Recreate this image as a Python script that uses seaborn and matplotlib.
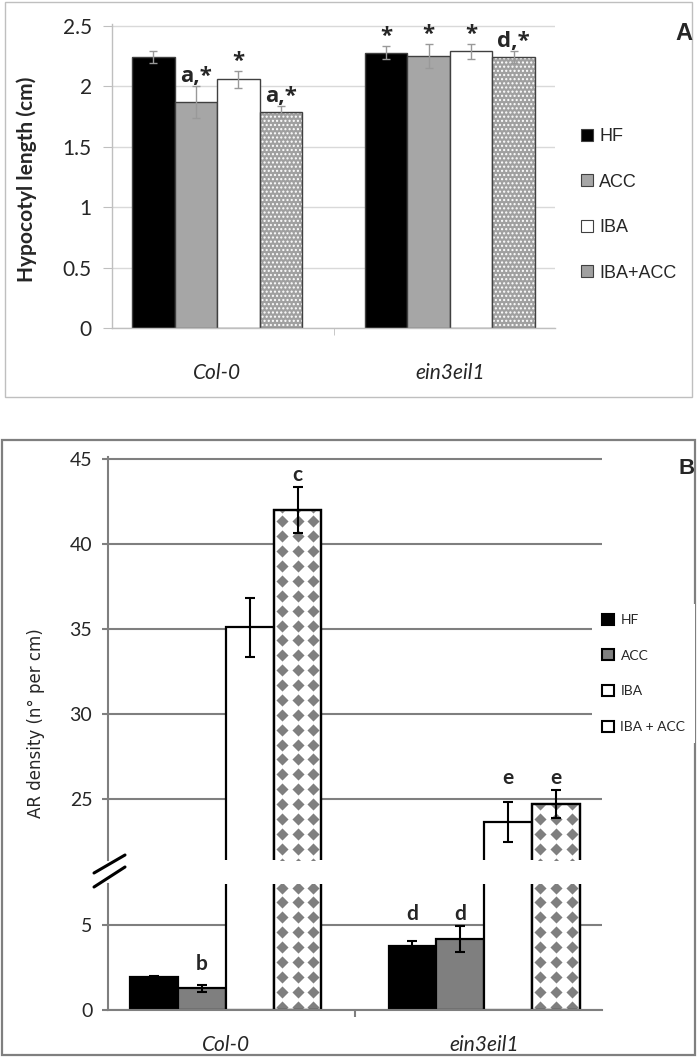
import numpy as np
import pandas as pd
import matplotlib.pyplot as plt
import seaborn as sns
from matplotlib.patches import Rectangle, Patch
from matplotlib.lines import Line2D

# Dados
genotypes = ['Col-0', 'ein3eil1']
treatments = ['HF', 'ACC', 'IBA', 'IBA+ACC']
legend_b = ['HF', 'ACC', 'IBA', 'IBA + ACC']

# painel A - hypocotyl length (cm)
hyp_col0 = [2.24, 1.87, 2.06, 1.79]
hyp_col0_err = [0.05, 0.13, 0.07, 0.05]
hyp_ein = [2.28, 2.25, 2.29, 2.24]
hyp_ein_err = [0.055, 0.10, 0.065, 0.05]
hyp_marks_col0 = ['', 'a,*', '*', 'a,*']
hyp_marks_ein = ['*', '*', '*', 'd,*']

# painel B - AR density (n per cm)
ar_col0 = [1.92, 1.27, 35.1, 42.0]
ar_col0_err = [0.1, 0.2, 1.75, 1.38]
ar_ein = [3.76, 4.18, 23.65, 24.7]
ar_ein_err = [0.3, 0.76, 1.2, 0.82]
ar_marks_col0 = ['', 'b', '', 'c']
ar_marks_ein = ['d', 'd', 'e', 'e']


def make_df(v1, e1, m1, v2, e2, m2):
    rows = []
    for g, vals, errs, marks in [(genotypes[0], v1, e1, m1), (genotypes[1], v2, e2, m2)]:
        for t, v, e, m in zip(treatments, vals, errs, marks):
            rows.append(dict(genotype=g, treatment=t, value=v, err=e, mark=m))
    return pd.DataFrame(rows)


df_a = make_df(hyp_col0, hyp_col0_err, hyp_marks_col0, hyp_ein, hyp_ein_err, hyp_marks_ein)
df_b = make_df(ar_col0, ar_col0_err, ar_marks_col0, ar_ein, ar_ein_err, ar_marks_ein)

sns.set_style('white')
plt.rcParams['font.family'] = ['Lato', 'DejaVu Sans']

W, H = 700, 1059
fig = plt.figure(figsize=(W / 100, H / 100), dpi=100)


def fx(px):
    return px / W


def fy(py):
    return 1 - py / H


def bars_of(ax):
    # (treatment index, genotype index, bar)
    out = []
    for ti, cont in enumerate(ax.containers):
        for bar in cont:
            xc = bar.get_x() + bar.get_width() / 2
            out.append((ti, int(round(xc)), bar))
    return out


# ---------------- Painel A ----------------
cores_a = {'HF': '#000000', 'ACC': '#A6A6A6', 'IBA': '#FFFFFF', 'IBA+ACC': '#A0A0A0'}
axA = fig.add_axes([fx(112), fy(328), fx(555) - fx(112), fy(23.6) - fy(328)])
sns.barplot(data=df_a, x='genotype', y='value', hue='treatment', order=genotypes,
            hue_order=treatments, palette=cores_a, width=0.73, gap=0, errorbar=None,
            saturation=1, edgecolor='#404040', linewidth=1, legend=False, ax=axA)
axA.set_ylim(0, 2.52)
axA.set_yticks([0, 0.5, 1, 1.5, 2, 2.5])
axA.set_yticklabels(['0', '0.5', '1', '1.5', '2', '2.5'])
axA.grid(axis='y', color='#D9D9D9', lw=1)
axA.set_axisbelow(True)
for s in ['top', 'right']:
    axA.spines[s].set_visible(False)
for s in ['left', 'bottom']:
    axA.spines[s].set_color('#BFBFBF')
    axA.spines[s].set_linewidth(1)
axA.tick_params(axis='y', left=True, length=6.5, color='#BFBFBF', pad=8, labelsize=15)
axA.tick_params(axis='x', which='major', length=0, pad=25, labelsize=15)
axA.set_xticks([-0.5, 0.5, 1.5], minor=True)
axA.tick_params(axis='x', which='minor', bottom=True, length=5, color='#BFBFBF')
for lbl in axA.get_xticklabels():
    lbl.set_style('italic')
axA.set_xlabel('')
axA.set_ylabel('Hypocotyl length (cm)', fontsize=15, fontweight='bold')
axA.yaxis.set_label_coords(-0.17, 0.49)

for ti, gi, bar in bars_of(axA):
    row = df_a[(df_a.genotype == genotypes[gi]) & (df_a.treatment == treatments[ti])].iloc[0]
    xc = bar.get_x() + bar.get_width() / 2
    h = bar.get_height()
    if treatments[ti] == 'IBA+ACC':
        bar.set_edgecolor('white')
        bar.set_linewidth(0)
        bar.set_hatch('....')
        axA.add_patch(Rectangle((bar.get_x(), 0), bar.get_width(), h, fill=False,
                                edgecolor='#404040', lw=1, zorder=bar.get_zorder() + 0.1))
    axA.errorbar(xc, h, yerr=row.err, fmt='none', ecolor='#999999', elinewidth=1,
                 capsize=3.2, capthick=1, zorder=5)
    if row.mark:
        axA.annotate(row.mark, (xc, h + row.err), xytext=(0, 4), textcoords='offset pixels',
                     ha='center', va='baseline', fontsize=16, fontweight='bold',
                     family='Open Sans')

handles_a = [Patch(facecolor=cores_a[t], edgecolor='#404040', lw=0.8) for t in treatments]
fig.legend(handles_a, treatments, loc='upper left', bbox_to_anchor=(fx(581), fy(128)),
           frameon=False, prop={'family': 'Liberation Sans', 'size': 13},
           handlelength=0.65, handleheight=0.65, handletextpad=0.35, labelspacing=1.58,
           borderpad=0, borderaxespad=0)
fig.text(fx(684), fy(34), 'A', ha='center', va='center', fontsize=17, fontweight='bold',
         family='Liberation Sans')
fig.add_artist(Rectangle((fx(4.5), fy(397)), fx(692) - fx(4.5), fy(2) - fy(397),
                         transform=fig.transFigure, fill=False, edgecolor='#BFBFBF', lw=1))

# ---------------- Painel B ----------------
cores_b = {'HF': '#000000', 'ACC': '#7F7F7F', 'IBA': '#FFFFFF', 'IBA+ACC': '#FFFFFF'}
grid_c = '#7F7F7F'
axBt = fig.add_axes([fx(108), fy(860.2), fx(602) - fx(108), fy(457.3) - fy(860.2)])
axBb = fig.add_axes([fx(108), fy(1010), fx(602) - fx(108), fy(884.2) - fy(1010)])

for ax in [axBt, axBb]:
    sns.barplot(data=df_b, x='genotype', y='value', hue='treatment', order=genotypes,
                hue_order=treatments, palette=cores_b, width=0.74, gap=0, errorbar=None,
                saturation=1, edgecolor='black', linewidth=1.6, legend=False, ax=ax)
    ax.grid(axis='y', color=grid_c, lw=1.5)
    ax.set_axisbelow(True)
    ax.set_xlabel('')
    ax.set_ylabel('')
    for s in ['top', 'right']:
        ax.spines[s].set_visible(False)
    ax.spines['left'].set_color(grid_c)
    ax.spines['left'].set_linewidth(1.5)
    ax.tick_params(axis='y', left=True, length=4.3, width=1.5, color=grid_c, pad=7, labelsize=14)

axBt.set_ylim(21.4, 45.1)
axBt.set_yticks([25, 30, 35, 40, 45])
axBt.spines['bottom'].set_visible(False)
axBt.set_xticks([])

axBb.set_ylim(0, 7.4)
axBb.set_yticks([0, 5])
axBb.spines['bottom'].set_color(grid_c)
axBb.spines['bottom'].set_linewidth(1.5)
axBb.tick_params(axis='x', which='major', length=0, pad=18, labelsize=15)
axBb.set_xticks([-0.5, 0.5, 1.5], minor=True)
axBb.tick_params(axis='x', which='minor', bottom=True, length=5, width=1.5, color=grid_c)
for lbl in axBb.get_xticklabels():
    lbl.set_style('italic')

axBt.set_ylabel('AR density (n° per cm)', fontsize=12, family='DejaVu Sans')
axBt.yaxis.set_label_coords(-0.128, 0.34)

corte = 21.4
for ax in [axBt, axBb]:
    ylo, yhi = ax.get_ylim()
    for ti, gi, bar in bars_of(ax):
        row = df_b[(df_b.genotype == genotypes[gi]) & (df_b.treatment == treatments[ti])].iloc[0]
        xc = bar.get_x() + bar.get_width() / 2
        h = bar.get_height()
        if treatments[ti] == 'IBA+ACC' and h > ylo:
            # padrao de losangos dentro da barra
            xs = bar.get_x() + bar.get_width() * np.array([1 / 6, 1 / 2, 5 / 6])
            ys = np.arange(0.2, h + 0.9, 0.875)
            ys = ys[(ys > ylo - 1) & (ys < min(h, yhi) + 1)]
            gx, gy = np.meshgrid(xs, ys)
            sc = ax.scatter(gx.ravel(), gy.ravel(), marker='D', s=38, color='#7F7F7F',
                            linewidths=0, zorder=bar.get_zorder() + 0.05)
            y0 = max(0, ylo)
            clip = Rectangle((bar.get_x(), y0), bar.get_width(), min(h, yhi) - y0,
                             transform=ax.transData)
            sc.set_clip_path(clip)
            ax.add_patch(Rectangle((bar.get_x(), 0), bar.get_width(), h, fill=False,
                                   edgecolor='black', lw=1.6, zorder=bar.get_zorder() + 0.1))
        ax.errorbar(xc, h, yerr=row.err, fmt='none', ecolor='black', elinewidth=1.5,
                    capsize=3.6, capthick=1.5, zorder=5)
        seg_top = h > corte
        if row.mark and (ax is axBt) == seg_top:
            grp = df_b[(df_b.genotype == row.genotype) & ((df_b.value > corte) == seg_top)]
            ytop = (grp.value + grp.err).max()
            ax.annotate(row.mark, (xc, ytop), xytext=(0, 6), textcoords='offset pixels',
                        ha='center', va='baseline', fontsize=15, fontweight='bold')

handles_b = [Patch(facecolor=cores_b[t], edgecolor='black', lw=1.5) for t in treatments]
fig.legend(handles_b, legend_b, loc='upper left', bbox_to_anchor=(fx(592), fy(604)),
           frameon=True, facecolor='white', edgecolor='none', framealpha=1, fancybox=False,
           fontsize=10, handlelength=0.85, handleheight=0.85, handletextpad=0.5,
           labelspacing=1.68, borderpad=0.7, borderaxespad=0)
fig.text(fx(687), fy(469), 'B', ha='center', va='center', fontsize=16, fontweight='bold',
         family='Liberation Sans')

# marcas de quebra do eixo
for y0, y1 in [(873, 855), (887, 867)]:
    fig.add_artist(Line2D([fx(94), fx(125)], [fy(y0), fy(y1)], transform=fig.transFigure,
                          color='black', lw=2.2))

fig.add_artist(Rectangle((fx(2), fy(1055)), fx(695) - fx(2), fy(440) - fy(1055),
                         transform=fig.transFigure, fill=False, edgecolor='#7F7F7F', lw=1.6))

plt.savefig('out.png', dpi=100)
